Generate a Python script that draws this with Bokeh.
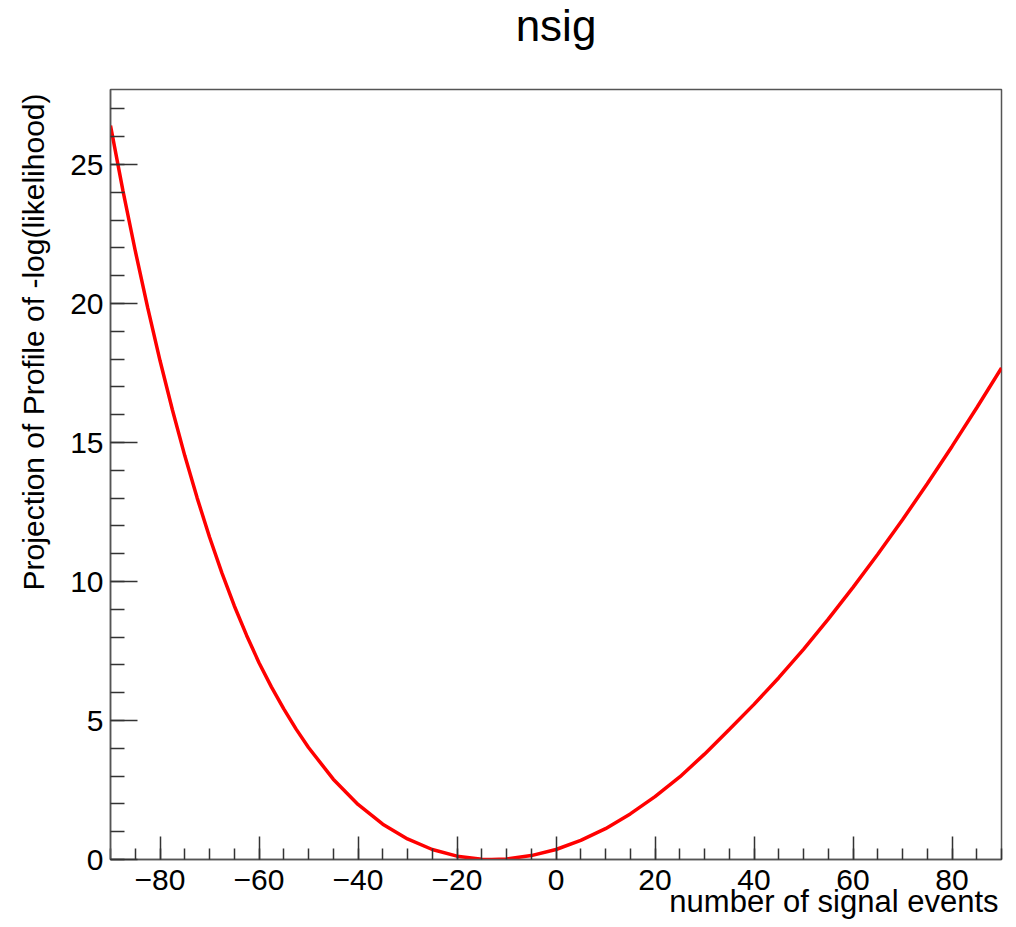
from bokeh.plotting import figure
from bokeh.models import FixedTicker, Title
from bokeh.embed import file_html
from bokeh.resources import INLINE

# ---- data ----
nsig = [-90, -87.5, -85, -82.5, -80, -77.5, -75, -72.5, -70, -67.5, -65, -62.5,
        -60, -57.5, -55, -52.5, -50, -45, -40, -35, -30, -25, -20, -15, -13,
        -10, -5, 0, 5, 10, 15, 20, 25, 30, 35, 40, 45, 50, 55, 60, 65, 70, 75,
        80, 85, 90]
nll = [26.40, 24.07, 21.90, 19.86, 17.95, 16.18, 14.53, 13.01, 11.60, 10.31,
       9.13, 8.06, 7.08, 6.21, 5.42, 4.69, 4.03, 2.89, 1.98, 1.27, 0.74, 0.36,
       0.12, 0.01, 0.00, 0.02, 0.14, 0.36, 0.69, 1.11, 1.64, 2.26, 2.97, 3.79,
       4.68, 5.58, 6.54, 7.56, 8.65, 9.79, 10.98, 12.22, 13.52, 14.86, 16.25,
       17.68]

x_major = [-80, -60, -40, -20, 0, 20, 40, 60, 80]
x_minor = list(range(-90, 91, 5))
y_major = [0, 5, 10, 15, 20, 25]
y_minor = list(range(0, 28))

title_text = "nsig"
x_title = "number of signal events"
y_title = "Projection of Profile of -log(likelihood)"

FONT = "Liberation Sans"

p = figure(frame_width=891, frame_height=770,
           x_range=(-90, 90), y_range=(0, 27.7),
           output_backend="svg", toolbar_location=None, title=None,
           min_border_left=107, min_border_right=10,
           min_border_top=89, min_border_bottom=60)
p.xgrid.visible = False
p.ygrid.visible = False
p.background_fill_color = "white"
p.border_fill_color = "white"
p.outline_line_color = "#555555"
p.outline_line_width = 1.5

p.line(nsig, nll, line_color="#ff0000", line_width=3.5)

def style_axis(ax, major_in, minor_in, standoff):
    ax.axis_line_color = "#555555"
    ax.axis_line_width = 1.5
    ax.major_tick_line_color = "#333333"
    ax.minor_tick_line_color = "#333333"
    ax.major_tick_line_width = 1.5
    ax.minor_tick_line_width = 1.5
    ax.major_tick_in = major_in
    ax.major_tick_out = 0
    ax.minor_tick_in = minor_in
    ax.minor_tick_out = 0
    ax.major_label_text_font = FONT
    ax.major_label_text_font_size = "30px"
    ax.major_label_text_color = "black"
    ax.major_label_standoff = standoff

xa = p.xaxis[0]
xa.ticker = FixedTicker(ticks=x_major, minor_ticks=x_minor)
xa.major_label_overrides = {t: (("\u2212" + str(abs(t))) if t < 0 else str(t)) for t in x_major}
style_axis(xa, 23, 11, 10)

ya = p.yaxis[0]
ya.ticker = FixedTicker(ticks=y_major, minor_ticks=y_minor)
style_axis(ya, 27, 14, 7)

# spacer between frame and main title (nearest to the frame), then the title
p.add_layout(Title(text=" ", text_font_size="1px", standoff=35), "above")
p.add_layout(Title(text=title_text, align="center", vertical_align="top", standoff=0,
                   text_font=FONT, text_font_size="44px", text_font_style="normal",
                   text_color="black"), "above")

p.add_layout(Title(text=x_title, align="right", vertical_align="top", offset=3,
                   standoff=-17, text_font=FONT, text_font_size="31px",
                   text_font_style="normal", text_color="black"), "below")

p.add_layout(Title(text=y_title, align="right", vertical_align="top", offset=4,
                   standoff=32, text_font=FONT, text_font_size="30px",
                   text_font_style="normal", text_color="black"), "left")

open("out.html", "w").write(file_html(p, INLINE))
